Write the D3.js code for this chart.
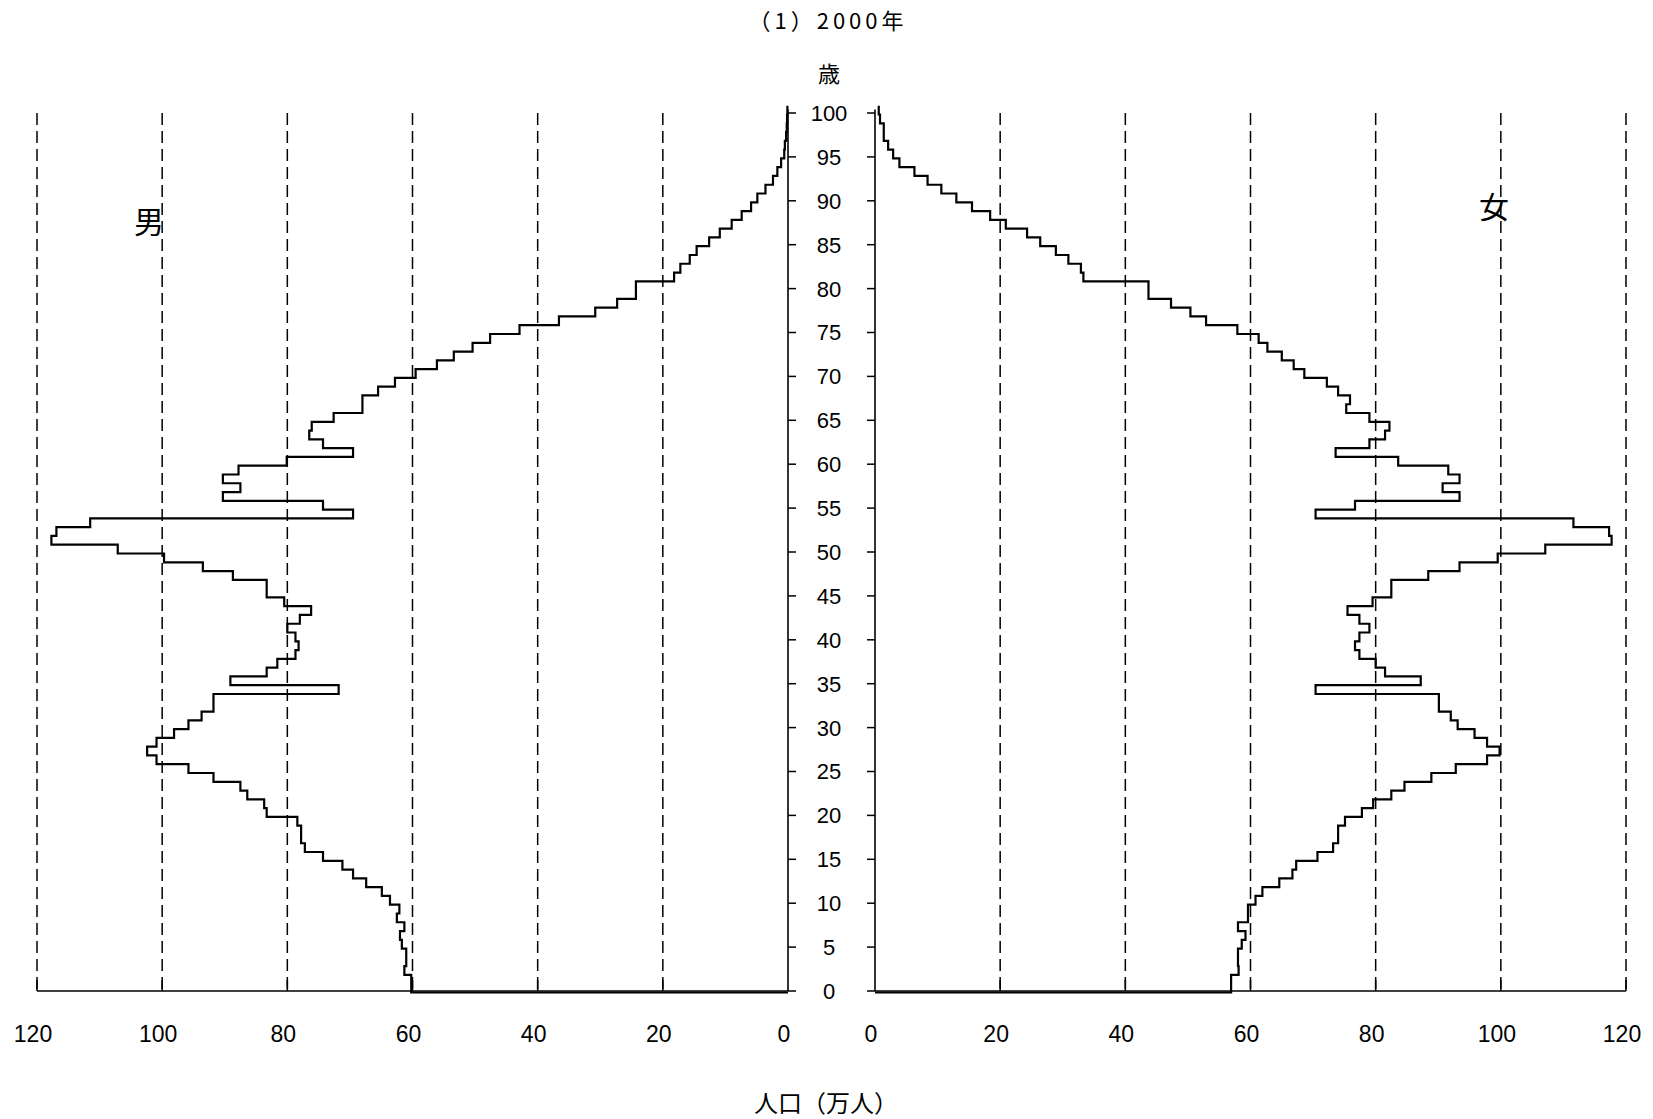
<!DOCTYPE html>
<html><head><meta charset="utf-8">
<script src="https://cdn.jsdelivr.net/npm/d3@7"></script>
<style>html,body{margin:0;padding:0;background:#fff;} svg{display:block;}</style>
</head><body>
<svg id="chart" width="1653" height="1119"></svg>
<script>
// ---- data (万人, single-year ages; 100 = 100+) ----
const ages = [0,1,2,3,4,5,6,7,8,9,10,11,12,13,14,15,16,17,18,19,20,21,22,23,24,25,26,27,28,29,30,31,32,33,34,35,36,37,38,39,40,41,42,43,44,45,46,47,48,49,50,51,52,53,54,55,56,57,58,59,60,61,62,63,64,65,66,67,68,69,70,71,72,73,74,75,76,77,78,79,80,81,82,83,84,85,86,87,88,89,90,91,92,93,94,95,96,97,98,99,100];
const male = [60.2,60.2,61.3,61.0,61.0,61.7,62.0,61.3,62.5,62.1,
  63.6,64.9,67.4,69.5,71.2,74.3,77.2,77.8,77.8,78.4,
  83.3,83.7,86.4,87.5,91.8,95.8,100.9,102.4,100.9,98.1,
  95.8,93.7,91.8,91.8,71.8,89.1,83.3,81.6,78.7,78.2,
  78.7,80.0,78.0,76.2,80.5,83.3,83.3,88.7,93.5,99.7,
  107.1,117.7,116.9,111.5,69.5,74.3,90.3,87.5,90.3,87.8,
  80.1,69.5,74.3,76.5,76.1,72.6,68.0,68.0,65.5,62.8,
  59.5,56.1,53.4,50.4,47.6,42.9,36.6,30.8,27.3,24.3,
  24.3,18.2,17.2,15.7,14.6,12.6,10.9,9.0,7.4,5.9,
  4.9,3.6,2.4,1.7,1.1,0.6,0.5,0.3,0.2,0.15,0.1];
const female = [56.9,56.9,58.1,58.0,58.0,58.6,59.2,58.0,59.6,59.6,
  60.8,61.9,64.6,66.7,67.3,70.7,73.2,74.0,74.0,75.1,
  77.8,79.6,82.5,84.6,88.9,92.8,97.8,99.8,97.8,95.8,
  93.1,92.0,90.1,90.1,70.4,87.2,81.5,80.0,77.4,76.7,
  77.4,79.0,77.4,75.5,79.5,82.5,82.5,88.4,93.4,99.5,
  107.1,117.7,117.3,111.6,70.4,76.7,93.4,90.7,93.4,91.6,
  83.6,73.6,79.0,81.5,82.2,79.0,75.3,75.9,74.0,72.2,
  68.6,66.9,65.0,62.7,61.3,57.9,52.9,50.4,47.3,43.7,
  43.7,33.3,32.9,30.9,28.9,26.4,24.3,20.9,18.4,15.5,
  13.0,10.6,8.4,6.3,3.9,2.9,2.1,1.4,1.4,0.8,0.6];
const ageTicks = [0,5,10,15,20,25,30,35,40,45,50,55,60,65,70,75,80,85,90,95,100];
const popTicks = [0,20,40,60,80,100,120];
const titleText = "（1）2000年";
const ageUnit = "歳";
const xTitle = "人口（万人）";
const maleLabel = "男";
const femaleLabel = "女";

// ---- layout ----
const svg = d3.select("#chart");
svg.append("rect").attr("width",1653).attr("height",1119).attr("fill","#fff");
const y = d3.scaleLinear().domain([0,100]).range([991,113]);
const xL = d3.scaleLinear().domain([0,120]).range([788,37]);
const xR = d3.scaleLinear().domain([0,120]).range([875,1626]);
const num = "'Liberation Sans', Arial, sans-serif";
const cjk = "'Noto Sans CJK JP', 'Noto Sans CJK SC', sans-serif";

// gridlines
[xL, xR].forEach(xs => {
  svg.append("g").selectAll("line").data(popTicks.filter(t => t > 0)).join("line")
    .attr("x1", d => xs(d)).attr("x2", d => xs(d))
    .attr("y1", y(100)).attr("y2", y(0))
    .attr("stroke", "#000").attr("stroke-width", 1.5)
    .attr("stroke-dasharray", "12,6");
  svg.append("g").selectAll("line").data(popTicks.filter(t => t > 0)).join("line")
    .attr("x1", d => xs(d)).attr("x2", d => xs(d))
    .attr("y1", y(0) - 11).attr("y2", y(0))
    .attr("stroke", "#000").attr("stroke-width", 1.5);
  svg.append("line")
    .attr("x1", xs(0)).attr("x2", xs(120)).attr("y1", y(0)).attr("y2", y(0))
    .attr("stroke", "#000").attr("stroke-width", 1.6);
  svg.append("g").selectAll("text").data(popTicks).join("text")
    .attr("x", d => xs(d) - 4).attr("y", 1042)
    .attr("text-anchor", "middle").attr("font-family", num).attr("font-size", 23)
    .text(d => d);
});

// vertical age axes
svg.append("line").attr("x1", xL(0)).attr("x2", xL(0)).attr("y1", y(100.4)).attr("y2", y(0))
  .attr("stroke", "#000").attr("stroke-width", 1.6);
svg.append("line").attr("x1", xR(0)).attr("x2", xR(0)).attr("y1", y(100.4)).attr("y2", y(0))
  .attr("stroke", "#000").attr("stroke-width", 1.6);
svg.append("g").selectAll("line").data(ageTicks).join("line")
  .attr("x1", xL(0)).attr("x2", xL(0) + 8).attr("y1", d => y(d)).attr("y2", d => y(d))
  .attr("stroke", "#000").attr("stroke-width", 1.5);
svg.append("g").selectAll("line").data(ageTicks).join("line")
  .attr("x1", xR(0) - 8).attr("x2", xR(0)).attr("y1", d => y(d)).attr("y2", d => y(d))
  .attr("stroke", "#000").attr("stroke-width", 1.5);
svg.append("g").selectAll("text").data(ageTicks).join("text")
  .attr("x", 829).attr("y", d => y(d)).attr("dy", "0.36em")
  .attr("text-anchor", "middle").attr("font-family", num).attr("font-size", 22)
  .text(d => d);

// step outlines
function stepPoints(vals) {
  const pts = [[0, ages[0]]];
  ages.forEach((a, i) => { pts.push([vals[i], a]); pts.push([vals[i], a + 1]); });
  return pts;
}
const lineL = d3.line().x(d => xL(d[0])).y(d => y(d[1]));
const lineR = d3.line().x(d => xR(d[0])).y(d => y(d[1]));
const g = svg.append("g").attr("transform", "translate(0,1.5)");
g.append("path").attr("d", lineL(stepPoints(male)))
  .attr("fill", "none").attr("stroke", "#000").attr("stroke-width", 2.2);
g.append("path").attr("d", lineR(stepPoints(female)))
  .attr("fill", "none").attr("stroke", "#000").attr("stroke-width", 2.2);

// texts
svg.append("text").attr("x", 828).attr("y", 29).attr("text-anchor", "middle")
  .attr("font-family", cjk).attr("font-size", 22).attr("letter-spacing", 4).text(titleText);
svg.append("text").attr("x", 829).attr("y", 82).attr("text-anchor", "middle")
  .attr("font-family", cjk).attr("font-size", 22).text(ageUnit);
svg.append("text").attr("x", 826).attr("y", 1112).attr("text-anchor", "middle")
  .attr("font-family", cjk).attr("font-size", 24).text(xTitle);
svg.append("text").attr("x", 149).attr("y", 233).attr("text-anchor", "middle")
  .attr("font-family", cjk).attr("font-size", 30).text(maleLabel);
svg.append("text").attr("x", 1494).attr("y", 218).attr("text-anchor", "middle")
  .attr("font-family", cjk).attr("font-size", 30).text(femaleLabel);
</script>
</body></html>
